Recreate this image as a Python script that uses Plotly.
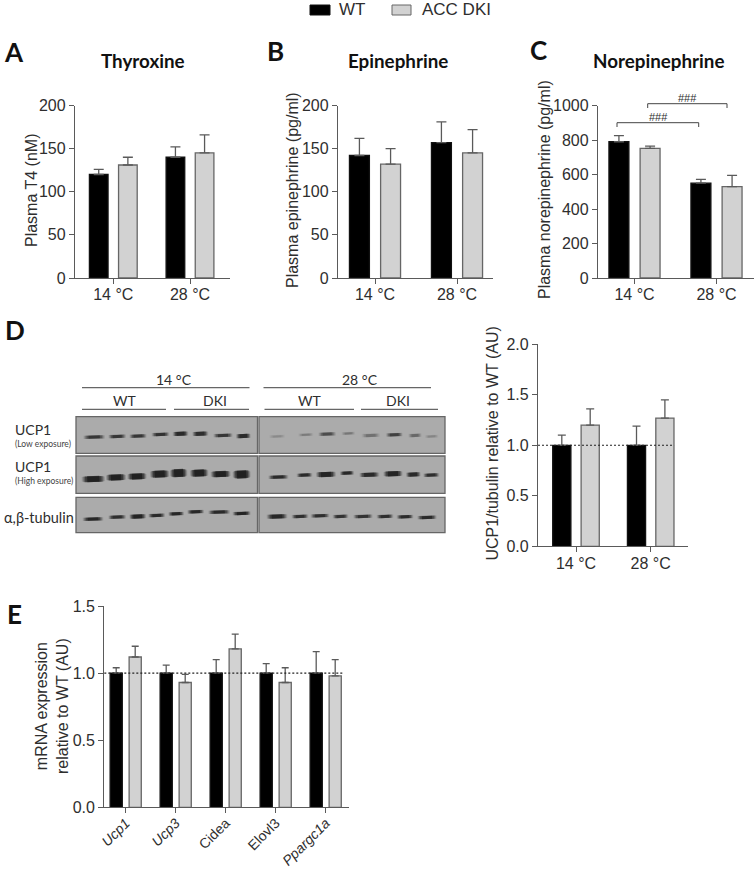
import plotly.graph_objects as go

W, H = 756, 870
SANS = "Liberation Sans, Arial, sans-serif"
BOLD = "Lato, Open Sans, sans-serif"
INK = "#2e2e2e"
AXIS = "#5a5a5a"
GREY = "#d2d2d2"

# ---------- bar data ----------
temps = ["14 °C", "28 °C"]
t4_wt = [120, 140]
t4_wt_top = [126, 152]
t4_dki = [131, 145]
t4_dki_top = [140, 166]

epi_wt = [142, 157]
epi_wt_top = [162, 181]
epi_dki = [132, 145]
epi_dki_top = [150, 172]

nor_wt = [790, 550]
nor_wt_top = [825, 572]
nor_dki = [752, 530]
nor_dki_top = [765, 595]

ucp_wt = [1.0, 1.0]
ucp_wt_top = [1.10, 1.19]
ucp_dki = [1.20, 1.27]
ucp_dki_top = [1.36, 1.45]

genes = ["<i>Ucp1</i>", "<i>Ucp3</i>", "Cidea", "Elovl3", "<i>Ppargc1a</i>"]
mrna_wt = [1.0, 1.0, 1.0, 1.0, 1.0]
mrna_wt_top = [1.04, 1.06, 1.10, 1.07, 1.16]
mrna_dki = [1.12, 0.93, 1.18, 0.93, 0.98]
mrna_dki_top = [1.20, 0.99, 1.29, 1.04, 1.10]

# ---------- western blot bands: zoomed start, end, row centre, darkness 0-1, thickness ----------
low_start = [250, 325, 388, 455, 518, 577, 640, 708, 808, 895, 955, 1025, 1085, 1158, 1225, 1275]
low_end = [315, 378, 440, 508, 565, 625, 698, 752, 855, 940, 1008, 1065, 1140, 1208, 1265, 1315]
low_y = [352, 350, 349, 344, 342, 342, 347, 349, 350, 345, 343, 341, 347, 345, 347, 350]
low_dark = [.7, .7, .7, .75, .85, .8, .7, .85, .12, .2, .5, .22, .25, .6, .3, .15]
low_thick = [3, 3, 3, 3, 4, 4, 3, 4, 2, 2, 3, 2, 3, 3, 3, 2]

high_start = [245, 318, 382, 450, 510, 570, 632, 698, 805, 890, 948, 1020, 1078, 1150, 1218, 1270]
high_end = [315, 378, 440, 508, 562, 625, 692, 752, 865, 937, 1008, 1062, 1138, 1208, 1262, 1318]
high_y = [478, 473, 470, 463, 460, 460, 463, 464, 472, 466, 464, 460, 465, 462, 464, 466]
high_dark = [1, 1, 1, 1, 1, 1, 1, 1, .85, .85, .95, .9, .85, .95, .85, .8]
high_thick = [6, 6, 6, 7, 8, 7, 6, 8, 3, 3, 5, 3, 4, 5, 4, 3]

tub_start = [248, 325, 388, 445, 505, 562, 625, 698, 800, 875, 932, 998, 1060, 1130, 1190, 1252]
tub_end = [310, 378, 438, 495, 552, 612, 690, 752, 862, 925, 988, 1045, 1118, 1180, 1240, 1310]
tub_y = [598, 592, 590, 587, 582, 576, 577, 581, 590, 590, 588, 590, 590, 590, 591, 593]
tub_dark = [.9, .8, .95, .85, .9, .9, .85, .95, .9, .8, .8, .75, .75, .8, .85, .85]
tub_thick = [3, 3, 4, 3, 3, 3, 3, 3, 4, 3, 3, 3, 3, 3, 3, 3]


def dx(a, b):
    return [a / W, b / W]


def dy(top, bottom):
    return [1 - bottom / H, 1 - top / H]


def xrange_for(left, right, first_tick, second_tick):
    step = second_tick - first_tick
    return [(left - first_tick) / step, (right - first_tick) / step]


fig = go.Figure()


def add_bars(ax, cats, wt, wt_top, dki, dki_top, cap):
    sfx = "" if ax == 1 else str(ax)
    for name, vals, tops, fill, edge in (
        ("WT", wt, wt_top, "#000000", "#111111"),
        ("ACC DKI", dki, dki_top, GREY, "#666666"),
    ):
        fig.add_trace(go.Bar(
            x=cats, y=vals, name=name, xaxis="x" + sfx, yaxis="y" + sfx, showlegend=False,
            offsetgroup=name, marker=dict(color=fill, line=dict(color=edge, width=1.3)),
            error_y=dict(type="data", symmetric=False,
                         array=[t - v for t, v in zip(tops, vals)],
                         arrayminus=[0] * len(vals),
                         color="#5a5a5a", thickness=1.3, width=cap),
        ))


add_bars(1, temps, t4_wt, t4_wt_top, t4_dki, t4_dki_top, 5)
add_bars(2, temps, epi_wt, epi_wt_top, epi_dki, epi_dki_top, 5)
add_bars(3, temps, nor_wt, nor_wt_top, nor_dki, nor_dki_top, 5)
add_bars(4, temps, ucp_wt, ucp_wt_top, ucp_dki, ucp_dki_top, 4)
add_bars(5, genes, mrna_wt, mrna_wt_top, mrna_dki, mrna_dki_top, 3.5)


def xaxis(domain, rng, anchor, **kw):
    d = dict(domain=domain, range=rng, anchor=anchor, type="category", showline=True,
             linecolor=AXIS, linewidth=1.3, ticks="outside", ticklen=5, tickwidth=1.3,
             tickcolor=AXIS, showgrid=False, zeroline=False, automargin=False,
             ticklabelstandoff=-3, tickfont=dict(family=SANS, size=16, color=INK))
    d.update(kw)
    return d


def yaxis(domain, rng, dtick, anchor, fmt=None):
    return dict(domain=domain, range=rng, dtick=dtick, tick0=0, anchor=anchor, showline=True,
                linecolor=AXIS, linewidth=1.3, ticks="outside", ticklen=5, tickwidth=1.3,
                tickcolor=AXIS, showgrid=False, zeroline=False, tickformat=fmt, automargin=False,
                tickfont=dict(family=SANS, size=16, color=INK))


# ---------- band overlay in page pixels ----------
def band_rows():
    for s, e, y, dark, th in (
        (low_start, low_end, low_y, low_dark, low_thick),
        (high_start, high_end, high_y, high_dark, high_thick),
        (tub_start, tub_end, tub_y, tub_dark, tub_thick),
    ):
        yield from zip(s, e, y, dark, th)


# soft, tapered look: wide faint stroke first, then shorter and darker ones on top
band_layers = ((0.00, 0.45, 1.8, 0.10), (0.04, 0.70, 1.2, 0.18), (0.09, 0.85, 0.6, 0.30),
               (0.15, 0.95, 0.2, 0.45), (0.24, 1.00, 0.0, 0.60))
for s, e, y, dark, th in band_rows():
    x0, x1, yy = s / 3, e / 3, 320 + y / 3
    span = x1 - x0
    for inset, scale, extra, op in band_layers:
        fig.add_trace(go.Scatter(
            x=[x0 + span * inset, x1 - span * inset], y=[yy, yy - 0.5], mode="lines",
            xaxis="x6", yaxis="y6", showlegend=False, hoverinfo="skip",
            line=dict(color="#111111", width=th * scale + extra),
            opacity=min(1, op * dark),
        ))

# ---------- brackets above panel C ----------
for xs, ys in (([617, 617, 698.7, 698.7], [127, 122.7, 122.7, 127]),
               ([647.7, 647.7, 727, 727], [108, 103.7, 103.7, 108])):
    fig.add_trace(go.Scatter(x=xs, y=ys, mode="lines", xaxis="x6", yaxis="y6", showlegend=False,
                             hoverinfo="skip", line=dict(color="#444444", width=1)))

layout = dict(
    width=W, height=H, margin=dict(l=0, r=0, t=0, b=0), paper_bgcolor="white",
    plot_bgcolor="rgba(0,0,0,0)", barmode="group", bargap=0.24, bargroupgap=0.36,
    showlegend=False,
    xaxis=xaxis(dx(75, 230), xrange_for(75, 230, 113.3, 190), "y"),
    yaxis=yaxis(dy(105.5, 278), [0, 200], 50, "x"),
    xaxis2=xaxis(dx(338, 493), xrange_for(338, 493, 375, 457), "y2"),
    yaxis2=yaxis(dy(105.5, 278), [0, 200], 50, "x2"),
    xaxis3=xaxis(dx(598, 754), xrange_for(598, 754, 634.5, 716.5), "y3"),
    yaxis3=yaxis(dy(105.5, 278), [0, 1000], 200, "x3"),
    xaxis4=xaxis(dx(538, 688), xrange_for(538, 688, 576, 650.7), "y4"),
    yaxis4=yaxis(dy(344.3, 546.3), [0, 2], 0.5, "x4", ".1f"),
    xaxis5=xaxis(dx(104.3, 349), xrange_for(104.3, 349, 125.7, 175.7), "y5",
                 tickangle=-45, ticklabelstandoff=-4, tickfont=dict(family=SANS, size=14, color=INK)),
    yaxis5=yaxis(dy(606, 807.3), [0, 1.5], 0.5, "x5", ".1f"),
    xaxis6=dict(domain=[0, 1], range=[0, W], visible=False, fixedrange=True, anchor="y6"),
    yaxis6=dict(domain=[0, 1], range=[H, 0], visible=False, fixedrange=True, anchor="x6"),
)

shapes = []


def rect(x0, y0, x1, y1, fill, line, width):
    shapes.append(dict(type="rect", xref="x6", yref="y6", x0=x0, y0=y0, x1=x1, y1=y1,
                       fillcolor=fill, line=dict(color=line, width=width), layer="below"))


def hline(x0, x1, y, color="#666666", width=1.2):
    shapes.append(dict(type="line", xref="x6", yref="y6", x0=x0, x1=x1, y0=y, y1=y,
                       line=dict(color=color, width=width), layer="below"))


# legend swatches
rect(310, 5, 330, 15, "#000000", "#111111", 1)
rect(392, 5, 411, 15, GREY, "#666666", 1)

# blot panels
for top, bottom in ((416.7, 453.3), (456, 493.3), (497.3, 532.7)):
    rect(76, top, 257.5, bottom, "#ababab", "#666666", 1.3)
    rect(259, top, 445, bottom, "#ababab", "#666666", 1.3)

# blot header rules
hline(82, 249.5, 387.7)
hline(263.5, 431, 387.7)
hline(82, 166, 409.3)
hline(174, 249, 409.3)
hline(264.5, 354, 409.3)
hline(361, 438, 409.3)

# reference lines at 1.0
for xa, ya, end in (("x4", "y4", 0.907), ("x5", "y5", 0.975)):
    shapes.append(dict(type="line", xref=f"{xa} domain", yref=ya, x0=0, x1=end, y0=1, y1=1,
                       line=dict(color="#222222", width=1.1, dash="2px,2px"), layer="above"))
layout["shapes"] = shapes

ann = []


def text(x, y, s, size=16, family=SANS, anchor="center", color=INK, angle=0):
    ann.append(dict(xref="x6", yref="y6", x=x, y=y, text=s, showarrow=False, xanchor=anchor,
                    yanchor="middle", textangle=angle,
                    font=dict(family=family, size=size, color=color)))


text(337, 9.5, "WT", 17, anchor="left")
text(420, 9.5, "ACC DKI", 17, anchor="left")

for x, y, s in ((2, 52, "A"), (265, 51, "B"), (528, 50, "C"), (3, 330, "D"), (5, 614, "E")):
    text(x, y, f"<b>{s}</b>", 26, BOLD, "left", "#111111")
for x, s in ((143, "Thyroxine"), (397.5, "Epinephrine"), (658, "Norepinephrine")):
    text(x, 60, f"<b>{s}</b>", 18.8, BOLD, color="#111111")

text(658, 117, "###", 11)
text(687, 98, "###", 11)

# y-axis captions
text(31, 190, "Plasma T4 (nM)", 16, angle=-90)
text(292, 190, "Plasma epinephrine (pg/ml)", 16, angle=-90)
text(544, 190, "Plasma norepinephrine (pg/ml)", 16, angle=-90)
text(493, 443.6, "UCP1/tubulin relative to WT (AU)", 16, angle=-90)
text(52, 706, "mRNA expression<br>relative to WT (AU)", 16, angle=-90)

text(174, 379, "14 °C", 14, BOLD)
text(360, 379, "28 °C", 14, BOLD)
text(124, 400.7, "WT", 14, BOLD)
text(214.7, 400.7, "DKI", 14, BOLD)
text(309, 400.7, "WT", 14, BOLD)
text(398, 400.7, "DKI", 14, BOLD)
text(13, 429, "UCP1", 14, BOLD, "left")
text(13, 444, "(Low exposure)", 8.5, BOLD, "left", "#444444")
text(13, 466, "UCP1", 14, BOLD, "left")
text(13, 481, "(High exposure)", 8.5, BOLD, "left", "#444444")
text(2, 517, "α,β-tubulin", 14.5, BOLD, "left")
layout["annotations"] = ann

fig.update_layout(**layout)
fig.write_html("out.html", config=dict(displayModeBar=False),
               post_script="document.body.style.margin='0';")
